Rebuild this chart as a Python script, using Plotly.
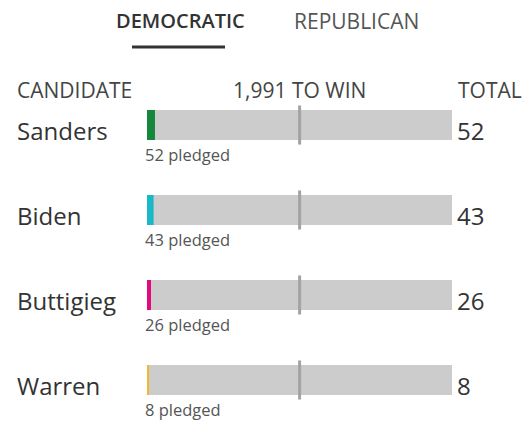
import plotly.graph_objects as go

# ---- data ----
candidates = ["Sanders", "Biden", "Buttigieg", "Warren"]
pledged = [52, 43, 26, 8]
totals = [52, 43, 26, 8]
party_tabs = ["DEMOCRATIC", "REPUBLICAN"]
WIN_TARGET = 1991
TOTAL_DELEGATES = 3979

# ---- styling ----
W, H = 532, 421
fill_colors = ["#15873d", "#19b8c8", "#e2097f", "#f4b62e"]
FONT = "Open Sans, Noto Sans, sans-serif"
ROW0, ROWSTEP = 125, 85   # pixel centre of first row and row spacing
BAR_PX = 30
BAR_X0, BAR_X1 = 147, 452

def px(x):
    return x / W

def py(y):
    return 1 - y / H

idx = list(range(len(candidates)))
bar_w = BAR_PX / ROWSTEP

fig = go.Figure()
# background tracks (full delegate scale)
fig.add_trace(go.Bar(
    x=[TOTAL_DELEGATES] * len(candidates), y=idx, orientation="h",
    marker=dict(color="#cccccc", line=dict(width=0)), width=bar_w,
    hoverinfo="skip", showlegend=False, xaxis="x", yaxis="y"))
# pledged fills
fig.add_trace(go.Bar(
    x=pledged, y=idx, orientation="h",
    marker=dict(color=fill_colors, line=dict(width=0)), width=bar_w,
    showlegend=False, xaxis="x2", yaxis="y",
    hovertext=[f"{c}: {p} pledged" for c, p in zip(candidates, pledged)],
    hoverinfo="text"))

shapes = []
annotations = []
for i, (c, p, t) in enumerate(zip(candidates, pledged, totals)):
    shapes.append(dict(type="line", xref="x", yref="y", x0=WIN_TARGET, x1=WIN_TARGET,
                       y0=i - 0.23, y1=i + 0.23, line=dict(color="#a3a3a3", width=3)))
    annotations.append(dict(text=c, xref="paper", yref="y", x=px(15), y=i + 0.06,
                            xanchor="left", yanchor="middle", showarrow=False,
                            font=dict(family=FONT, size=24, color="#333333")))
    annotations.append(dict(text=str(t), xref="paper", yref="y", x=px(455), y=i + 0.06,
                            xanchor="left", yanchor="middle", showarrow=False,
                            font=dict(family=FONT, size=24, color="#333333")))
    annotations.append(dict(text=f"{p} pledged", xref="paper", yref="y", x=px(144), y=i + 0.35,
                            xanchor="left", yanchor="middle", showarrow=False, borderpad=0,
                            font=dict(family=FONT, size=16.5, color="#555555")))

# header row
annotations.append(dict(text="CANDIDATE", xref="paper", yref="paper", x=px(15), y=py(90),
                        xanchor="left", yanchor="middle", showarrow=False,
                        font=dict(family=FONT, size=21, color="#444444")))
annotations.append(dict(text=f"{WIN_TARGET:,} TO WIN", xref="x", yref="paper", x=WIN_TARGET, y=py(90),
                        xanchor="center", yanchor="middle", showarrow=False,
                        font=dict(family=FONT, size=21, color="#444444")))
annotations.append(dict(text="TOTAL", xref="paper", yref="paper", x=px(524), y=py(90),
                        xanchor="right", yanchor="middle", showarrow=False,
                        font=dict(family=FONT, size=21, color="#444444")))
# tabs
annotations.append(dict(text=party_tabs[0], xref="paper", yref="paper", x=px(180), y=py(21),
                        xanchor="center", yanchor="middle", showarrow=False,
                        font=dict(family=FONT, size=20, color="#333333", weight=600)))
annotations.append(dict(text=party_tabs[1], xref="paper", yref="paper", x=px(356), y=py(21),
                        xanchor="center", yanchor="middle", showarrow=False,
                        font=dict(family=FONT, size=21, color="#555555")))
shapes.append(dict(type="line", xref="paper", yref="paper", x0=px(132), x1=px(225),
                   y0=py(47), y1=py(47), line=dict(color="#333333", width=3)))

top_units = -ROW0 / ROWSTEP
bottom_units = (H - ROW0) / ROWSTEP

fig.update_layout(
    width=W, height=H,
    margin=dict(l=0, r=0, t=0, b=0),
    paper_bgcolor="white", plot_bgcolor="white",
    barmode="overlay",
    xaxis=dict(domain=[px(BAR_X0), px(BAR_X1)], range=[0, TOTAL_DELEGATES], visible=False, fixedrange=True),
    xaxis2=dict(domain=[px(BAR_X0), px(BAR_X1)], range=[0, WIN_TARGET], overlaying="x", visible=False, fixedrange=True),
    yaxis=dict(domain=[0, 1], range=[bottom_units, top_units], visible=False, fixedrange=True),
    shapes=shapes, annotations=annotations,
    font=dict(family=FONT),
)

fig.write_html("out.html", config={"displayModeBar": False},
               post_script="document.body.style.margin='0';")
